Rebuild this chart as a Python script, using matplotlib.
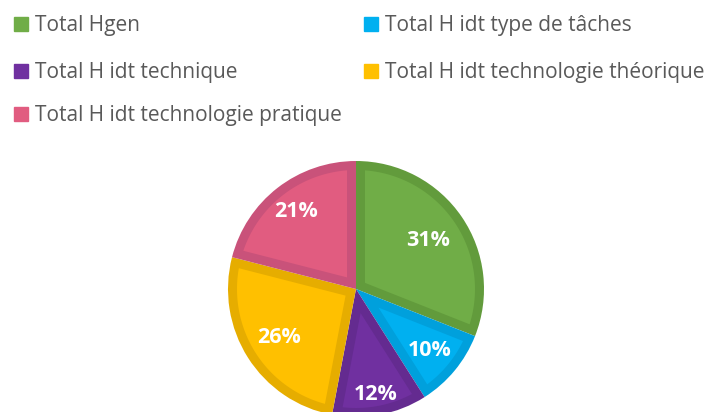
import matplotlib
matplotlib.use("Agg")
import matplotlib.pyplot as plt
from matplotlib.patches import Rectangle, Polygon
import numpy as np

labels = ['Total Hgen', 'Total H idt type de tâches', 'Total H idt technique',
          'Total H idt technologie théorique', 'Total H idt technologie pratique']
shares = [31, 10, 12, 26, 21]
fills = ['#70AD47', '#00B0F0', '#7030A0', '#FFC000', '#E15C80']
edges = ['#629B3C', '#00A0DC', '#642B90', '#E6AD00', '#C9527A']
# how far out each percentage sits, as a fraction of the radius
label_dist = [0.68, 0.75, 0.84, 0.71, 0.77]


def inset_slice(a1, a2, t, n=60):
    """Slice between angles a1..a2 (deg) shrunk inward by t on every side."""
    a1, a2 = np.deg2rad(a1), np.deg2rad(a2)
    h = (a2 - a1) / 2
    b = a1 + h
    apex = t / np.sin(h)
    rho = 1 - t
    dlt = np.arctan2(t, np.sqrt(rho ** 2 - t ** 2))
    th = np.linspace(a1 + dlt, a2 - dlt, n)
    pts = [(apex * np.cos(b), apex * np.sin(b))]
    pts += list(zip(rho * np.cos(th), rho * np.sin(th)))
    return np.array(pts)


W, H = 708, 412
fig = plt.figure(figsize=(W / 100, H / 100), dpi=100)

# pie axes: centre (356, 289) px, radius 128 px
cx, cy, r = 356, 289, 128
ax = fig.add_axes([(cx - r) / W, (H - cy - r) / H, 2 * r / W, 2 * r / H])
wedges, _ = ax.pie(shares, colors=edges, startangle=90, counterclock=False,
                   radius=1, wedgeprops=dict(linewidth=0))

# lighter inner fill leaves a darker border round each slice
border = 9 / r
for w, fc in zip(wedges, fills):
    ax.add_patch(Polygon(inset_slice(w.theta1, w.theta2, border),
                         closed=True, facecolor=fc, edgecolor='none'))

for w, s, d in zip(wedges, shares, label_dist):
    ang = np.deg2rad((w.theta1 + w.theta2) / 2)
    ax.text(d * np.cos(ang), d * np.sin(ang), f'{s}%', ha='center', va='center',
            color='white', fontsize=15.5, fontweight='bold', family='Open Sans')
ax.set_xlim(-1, 1)
ax.set_ylim(-1, 1)
ax.set_aspect('equal')
ax.axis('off')

# legend laid out in two columns, row by row (square centre in px)
slots = [(14, 23.5), (364, 23.5), (14, 71), (364, 71), (14, 114)]
for (x, y), lab, col in zip(slots, labels, fills):
    fig.patches.append(Rectangle((x / W, 1 - (y + 7) / H), 14 / W, 14 / H,
                                 transform=fig.transFigure, color=col))
    fig.text((x + 21) / W, 1 - (y + 7) / H, lab, ha='left', va='baseline',
             fontsize=15, color='#595959', family='Open Sans')

fig.savefig('out.png', dpi=100)
